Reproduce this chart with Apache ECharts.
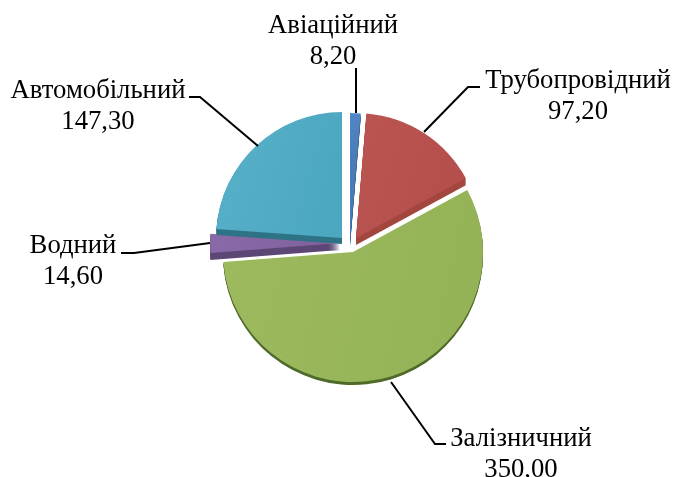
<!DOCTYPE html>
<html>
<head>
<meta charset="utf-8">
<script src="https://cdn.jsdelivr.net/npm/echarts@6/dist/echarts.min.js"></script>
<style>
html,body{margin:0;padding:0;background:#fff}
#chart{width:674px;height:477px}
</style>
</head>
<body>
<div id="chart"></div>
<script>
const names = ['Авіаційний', 'Трубопровідний', 'Залізничний', 'Водний', 'Автомобільний'];
const values = [8.2, 97.2, 350, 14.6, 147.3];
const valueLabels = ['8,20', '97,20', '350,00', '14,60', '147,30'];

// оформлення секторів: [світлий край, темний край], бокова грань
const faceColors = [
  ['#5288c6', '#4a7cb8'], ['#ba5551', '#b44f4b'], ['#9dba5e', '#94b256'],
  ['#8969a7', '#80619e'], ['#58b1c9', '#4ca7c0']
];
const sideColors = ['#3a6090', '#a3473f', '#4f6a2a', '#5d4776', '#2f7386'];
// кожен сектор висунутий окремо
const centers = [[350, 240], [356, 238], [353, 252], [340, 243], [342, 238]];
const radii = [127, 125, 130, 130, 126];
const depth = [6, 7, 3, 7, 6];
const drawOrder = [2, 3, 4, 1, 0];

const labelPos = [[333, 41], [578, 96], [521, 454], [73, 261], [98, 106]];
const leaders = [
  [[356, 68], [356, 113]],
  [[480, 87], [468, 87], [424, 132]],
  [[391, 382], [435, 444], [446, 444]],
  [[121, 253], [134, 253], [210, 243]],
  [[189, 97], [200, 97], [258, 146]]
];

function sliceSeries(i, dy, fill, z) {
  return {
    type: 'pie', silent: true, z,
    center: [centers[i][0], centers[i][1] + dy],
    radius: [0, radii[i]], startAngle: 90, clockwise: true,
    minAngle: 0, avoidLabelOverlap: false,
    label: { show: false }, labelLine: { show: false },
    animation: false,
    data: values.map((v, k) => ({
      value: v,
      itemStyle: { color: k === i ? fill : 'transparent' }
    }))
  };
}
function faceFill(i) {
  return {
    type: 'linear', x: 0, y: 0, x2: 1, y2: 0.3,
    colorStops: [
      { offset: 0, color: faceColors[i][0] },
      { offset: 1, color: faceColors[i][1] }
    ]
  };
}

const series = [];
drawOrder.forEach((i, n) => {
  // бокова грань: той самий сектор, зсунутий вниз шар за шаром
  for (let dy = depth[i]; dy > 0; dy--) {
    series.push(sliceSeries(i, dy, sideColors[i], 2 + n * 2));
  }
  series.push(sliceSeries(i, 0, faceFill(i), 3 + n * 2));
});

const graphics = [];
leaders.forEach(points => {
  graphics.push({
    type: 'polyline', z: 50,
    shape: { points },
    style: { stroke: '#000', lineWidth: 2, fill: null }
  });
});
names.forEach((n, i) => {
  graphics.push({
    type: 'text', z: 60, x: labelPos[i][0], y: labelPos[i][1],
    style: {
      text: n + '\n' + valueLabels[i], align: 'center', verticalAlign: 'middle',
      font: '26.7px "Liberation Serif"', lineHeight: 31, fill: '#000'
    }
  });
});

const chart = echarts.init(document.getElementById('chart'), null, { renderer: 'canvas' });
chart.setOption({
  backgroundColor: '#fff',
  animation: false,
  series,
  graphic: graphics
});
</script>
</body>
</html>
